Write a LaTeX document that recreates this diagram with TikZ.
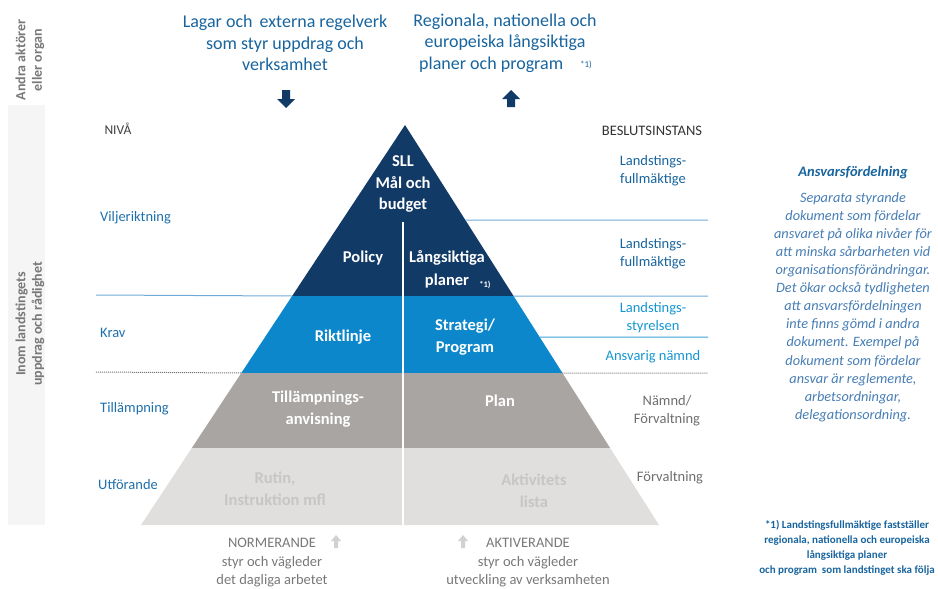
\documentclass[tikz,border=0pt]{standalone}
\usepackage{fontspec}
\setmainfont{Carlito}
\usetikzlibrary{calc}
\definecolor{navy}{RGB}{18,58,102}
\definecolor{bandblue}{RGB}{12,135,203}
\definecolor{bandgray}{RGB}{168,165,163}
\definecolor{bandlight}{RGB}{225,223,221}
\definecolor{ghost}{RGB}{200,198,196}
\definecolor{headblue}{RGB}{24,100,158}
\definecolor{lvlblue}{RGB}{30,112,172}
\definecolor{brightblue}{RGB}{20,150,210}
\definecolor{linelight}{RGB}{110,170,215}
\definecolor{txtgray}{RGB}{120,120,120}
\definecolor{notegray}{RGB}{110,110,110}
\definecolor{bodyblue}{RGB}{70,125,180}
\tikzset{
  top/.style={font=\fontsize{18}{21.5}\selectfont, text=headblue, align=center},
  pyr/.style={font=\bfseries\fontsize{16.5}{21.5}\selectfont, text=white, align=center, inner sep=0pt},
  ghosttxt/.style={font=\bfseries\fontsize{16.5}{21.5}\selectfont, text=ghost, align=center, inner sep=0pt},
  lvl/.style={font=\fontsize{14.5}{15}\selectfont, text=lvlblue, anchor=west, inner sep=0pt},
  dec/.style={font=\fontsize{14.5}{18}\selectfont, text=headblue, align=center, inner sep=0pt},
  side/.style={font=\bfseries\fontsize{14}{16.5}\selectfont, text=txtgray, align=center, rotate=90, inner sep=0pt},
  bottomtxt/.style={font=\fontsize{14.5}{18.5}\selectfont, text=txtgray, align=center, inner sep=0pt},
  sepline/.style={line width=1pt},
  blockarrow/.style={fill=navy, draw=none},
  icon/.style={fill=black!18, draw=none}
}
\begin{document}
\begin{tikzpicture}[x=1pt,y=-1pt]
\useasboundingbox (0,0) rectangle (938,589);

% left side band
\fill[black!4] (8,105) rectangle (45,525);
\node[side] (andra) at (30,60) {Andra aktörer\\eller organ};
\node[side] (inom) at (30,324) {Inom landstingets\\uppdrag och rådighet};

% pyramid geometry
\coordinate (A) at (405,125);
\coordinate (BL) at (141,525);
\coordinate (BR) at (659,525);
\coordinate (L1) at ($(A)!0.4275!(BL)$);
\coordinate (R1) at ($(A)!0.4275!(BR)$);
\coordinate (L2) at ($(A)!0.62!(BL)$);
\coordinate (R2) at ($(A)!0.62!(BR)$);
\coordinate (L3) at ($(A)!0.8075!(BL)$);
\coordinate (R3) at ($(A)!0.8075!(BR)$);
\coordinate (Rtop) at ($(A)!0.2375!(BR)$);
\coordinate (Rmid) at ($(A)!0.53!(BR)$);

\fill[navy] (A) -- (L1) -- (R1) -- cycle;
\fill[bandblue] (L1) -- (R1) -- (R2) -- (L2) -- cycle;
\fill[bandgray] (L2) -- (R2) -- (R3) -- (L3) -- cycle;
\fill[bandlight] (L3) -- (R3) -- (BR) -- (BL) -- cycle;

% vertical divider
\coordinate (D1) at (403,222);
\coordinate (D2) at (403,525);
\draw[white, line width=1.3pt] (D1) -- (D2);

% separator lines right
\coordinate (E1) at (708,220);
\coordinate (E2) at (708,296);
\coordinate (E3) at (708,337);
\coordinate (E4) at (708,373);
\draw[sepline, linelight] (Rtop) -- (E1);
\draw[sepline, linelight] (R1) -- (E2);
\draw[sepline, bandblue!80] (Rmid) -- (E3);
\draw[sepline, black!55, densely dotted] (R2) -- (E4);
% separator lines left
\coordinate (W1) at (96,295);
\coordinate (W2) at (96,372);
\draw[sepline, linelight] (W1) -- (L1);
\draw[sepline, black!55, densely dotted] (W2) -- (L2);

% pyramid texts
\node[pyr] (sll) at (403,184) {SLL\\Mål och\\budget};
\node[pyr] (policy) at (363,258) {Policy};
\node[pyr] (lang) at (447,258) {Långsiktiga};
\node[pyr] (planer) at (447,281) {planer};
\node[font=\bfseries\fontsize{8.5}{8.5}\selectfont, text=white, inner sep=0pt] (fn1) at (485,285) {*1)};
\node[pyr] (rikt) at (343,337) {Riktlinje};
\node[pyr] (strat) at (465,337) {Strategi/\\Program};
\node[pyr] (till) at (318,409) {Tillämpnings-\\anvisning};
\node[pyr] (plan) at (500,401) {Plan};
\node[ghosttxt] (rutin) at (275,489) {Rutin,\\Instruktion mfl};
\node[ghosttxt] (akt) at (534,491) {Aktivitets\\lista};

% level labels
\node[font=\fontsize{13.5}{13}\selectfont, text=black!75, inner sep=0pt] (niva) at (118,129) {NIVÅ};
\node[lvl] (vilj) at (100,218) {Viljeriktning};
\node[lvl] (krav) at (100,333) {Krav};
\node[lvl] (tillamp) at (100,409) {Tillämpning};
\node[lvl] (utf) at (98,485) {Utförande};

% decision bodies
\node[font=\fontsize{14.5}{13}\selectfont, text=black!80, inner sep=0pt] (besl) at (652,131) {BESLUTSINSTANS};
\node[dec] (lf1) at (653,171) {Landstings-\\fullmäktige};
\node[dec] (lf2) at (653,254) {Landstings-\\fullmäktige};
\node[dec, text=brightblue] (ls) at (653,318) {Landstings-\\styrelsen};
\node[dec, text=brightblue] (an) at (653,357) {Ansvarig nämnd};
\node[dec, text=notegray] (nf) at (667,411) {Nämnd/\\Förvaltning};
\node[dec, text=notegray] (fv) at (670,478) {Förvaltning};

% top headings
\node[top] (lagar) at (285,43) {Lagar och \,externa regelverk\\som styr uppdrag och\\verksamhet};
\node[top] (reg) at (505,43) {Regionala, nationella och\\europeiska långsiktiga\\planer och program \phantom{*1)}};
\node[font=\fontsize{9}{9}\selectfont, text=headblue, inner sep=0pt] (fn2) at (586,65) {*1)};

% block arrows
\fill[blockarrow] (282,90) -- (290,90) -- (290,99) -- (295,99) -- (286,108) -- (277,99) -- (282,99) -- cycle;
\fill[blockarrow] (507,107) -- (515,107) -- (515,99) -- (520,99) -- (511,90) -- (502,99) -- (507,99) -- cycle;

% bottom captions
\node[bottomtxt] (norm) at (272,563) {NORMERANDE\\styr och vägleder\\det dagliga arbetet};
\node[bottomtxt] (aktiv) at (528,563) {AKTIVERANDE\\styr och vägleder\\utveckling av verksamheten};
\fill[icon] (336,535) -- (341,541) -- (338,541) -- (338,548) -- (334,548) -- (334,541) -- (331,541) -- cycle;
\fill[icon] (463,535) -- (468,541) -- (465,541) -- (465,548) -- (461,548) -- (461,541) -- (458,541) -- cycle;

% right explanation
\node[font=\bfseries\itshape\fontsize{14.5}{16}\selectfont, text=headblue, inner sep=0pt] (ansv) at (853,173) {Ansvarsfördelning};
\node[font=\itshape\fontsize{14.3}{18.1}\selectfont, text=bodyblue, align=center, inner sep=0pt, anchor=north] (body) at (853,192) {Separata styrande\\dokument som fördelar\\ansvaret på olika nivåer för\\att minska sårbarheten vid\\organisationsförändringar.\\Det ökar också tydligheten\\att ansvarsfördelningen\\inte finns gömd i andra\\dokument. Exempel på\\dokument som fördelar\\ansvar är reglemente,\\arbetsordningar,\\delegationsordning.};

% footnote
\node[font=\bfseries\fontsize{11}{14.8}\selectfont, text=headblue, align=center, inner sep=0pt] (note) at (847,548) {*1) Landstingsfullmäktige fastställer\\regionala, nationella och europeiska\\långsiktiga planer\\och program \ som landstinget ska följa};
\end{tikzpicture}
\end{document}
